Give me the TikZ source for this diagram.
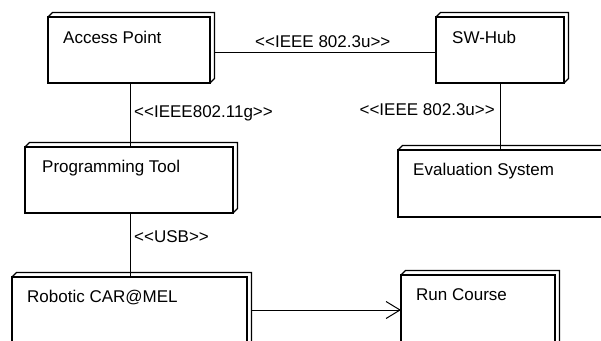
\documentclass[tikz,border=0pt]{standalone}
\usepackage{fontspec}
\setmainfont{Liberation Sans}[Ligatures=TeXOff]
\usetikzlibrary{arrows.meta,calc}
\begin{document}
\begin{tikzpicture}[x=1pt,y=-1pt,
  front/.style={draw, line width=2.8pt, fill=white, inner sep=0pt, outer sep=0pt, anchor=north west},
  backline/.style={line width=1.3pt, line join=miter},
  conn/.style={line width=1pt},
  txt/.style={font=\fontsize{17}{19}\selectfont, inner sep=0pt},
  barb/.style={-{Straight Barb[length=14pt,width=17pt,line width=1pt]}},
]
\useasboundingbox (0,0) rectangle (601,340);
\clip (0,0) rectangle (601,340);
\fill[white] (0,0) rectangle (601,340);

% boxes (front faces)
\node[front, minimum width=162pt, minimum height=66pt] (ap)  at (48,17)  {};
\node[front, minimum width=128pt, minimum height=66pt] (hub) at (436,17) {};
\node[front, minimum width=208pt, minimum height=66pt] (pt)  at (25,147) {};
\node[front, minimum width=230pt, minimum height=67pt] (ev)  at (398,150) {};
\node[front, minimum width=235pt, minimum height=80pt] (rob) at (12,277) {};
\node[front, minimum width=154pt, minimum height=80pt] (rc)  at (401,275) {};

% depth (back edges)
\foreach \n in {ap,hub,pt,ev,rob,rc}{
  \draw[backline] (\n.north west) -- ++(4.5,-4.5) -| ($(\n.south east)+(4.5,-4.5)$) -- (\n.south east);
}

% texts
\node[txt, anchor=base west] (apt)  at (63,43)  {Access Point};
\node[txt, anchor=base west] (hubt) at (452,43) {SW-Hub};
\node[txt, anchor=base west] (ptt)  at (42,172) {Programming Tool};
\node[txt, anchor=base west] (evt)  at (413,175) {Evaluation System};
\node[txt, anchor=base west] (robt) at (27,302) {Robotic CAR@MEL};
\node[txt, anchor=base west] (rct)  at (416,300) {Run Course};

% connector anchor points
\coordinate (c1) at ($(ap.south west)+(82,0)$);
\coordinate (c2) at ($(ap.north east)+(4.5,35)$);
\coordinate (c3) at ($(hub.south west)+(64,0)$);
\coordinate (c4) at ($(pt.south west)+(105,0)$);
\coordinate (c5) at ($(rob.north east)+(4.5,33)$);

\draw[conn] (c1) -- (c1 |- pt.north);
\draw[conn] (c2) -- (c2 -| hub.west);
\draw[conn] (c3) -- (c3 |- ev.north);
\draw[conn] (c4) -- (c4 |- rob.north);
\draw[conn, barb] (c5) -- (c5 -| rc.west);

% connector labels
\node[txt, anchor=base west] (l1) at (134,117) {<<IEEE802.11g>>};
\node[txt, anchor=base west] (l2) at (255,47)  {<<IEEE 802.3u>>};
\node[txt, anchor=base east] (l3) at (495,115) {<<IEEE 802.3u>>};
\node[txt, anchor=base west] (l4) at (134,242) {<<USB>>};
\end{tikzpicture}
\end{document}
